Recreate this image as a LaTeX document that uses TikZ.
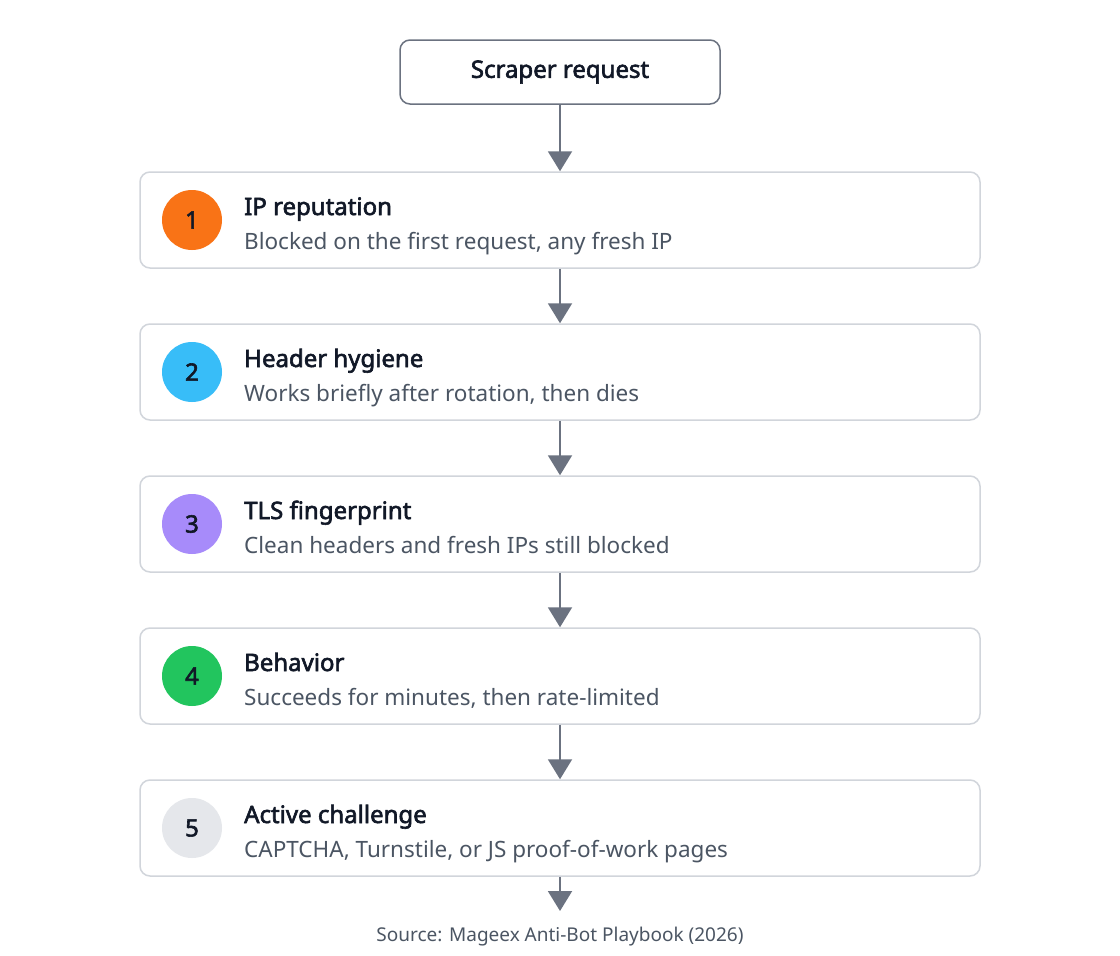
\documentclass[tikz,border=0pt]{standalone}
\usepackage{fontspec}
\setmainfont{Noto Sans}[BoldFont={Noto Sans}, BoldFeatures={FakeBold=2.5}]
\usetikzlibrary{arrows.meta,positioning}
\definecolor{edgegray}{HTML}{6B7280}
\definecolor{boxline}{HTML}{D1D5DB}
\definecolor{ink}{HTML}{111827}
\definecolor{subink}{HTML}{4B5563}
\definecolor{cOne}{HTML}{F97316}
\definecolor{cTwo}{HTML}{38BDF8}
\definecolor{cThree}{HTML}{A78BFA}
\definecolor{cFour}{HTML}{22C55E}
\definecolor{cFive}{HTML}{E5E7EB}
\tikzset{
  stage/.style={draw=boxline, line width=1.5pt, rounded corners=10pt, fill=white,
    minimum width=840pt, minimum height=96pt, inner sep=0pt},
  badge/.style={circle, minimum size=60pt, inner sep=0pt, text=ink,
    font=\fontsize{24}{28}\selectfont\bfseries},
  flow/.style={draw=edgegray, line width=2pt, -{Triangle[width=24pt,length=20pt]}},
}
\begin{document}
\begin{tikzpicture}[x=1pt,y=-1pt]
  \useasboundingbox[fill=white] (0,0) rectangle (1120,956);
  % start node
  \node[draw=edgegray, line width=1.5pt, rounded corners=10pt, minimum width=320pt,
    minimum height=64pt, font=\fontsize{24}{28}\selectfont\bfseries, text=ink]
    (start) at (560,72) {Scraper request};
  % stages
  \foreach \i/\c/\t/\s [count=\n] in {
    1/cOne/IP reputation/{Blocked on the first request, any fresh IP},
    2/cTwo/Header hygiene/{Works briefly after rotation, then dies},
    3/cThree/TLS fingerprint/{Clean headers and fresh IPs still blocked},
    4/cFour/Behavior/{Succeeds for minutes, then rate-limited},
    5/cFive/Active challenge/{CAPTCHA, Turnstile, or JS proof-of-work pages}}
  {
    \node[stage] (s\n) at (560,{220+152*(\n-1)}) {};
    \node[badge, fill=\c] (b\n) at (192,{220+152*(\n-1)}) {\i};
    \node[anchor=base west, inner sep=0pt, text=ink,
      font=\fontsize{24}{28}\selectfont\bfseries] (t\n) at (244,{215+152*(\n-1)}) {\t};
    \node[anchor=base west, inner sep=0pt, text=subink,
      font=\fontsize{22.5}{27}\selectfont] (d\n) at (244,{249+152*(\n-1)}) {\s};
  }
  % connectors
  \draw[flow] (start.south) -- (s1.north);
  \foreach \a/\b in {1/2,2/3,3/4,4/5}
    \draw[flow] (s\a.south) -- (s\b.north);
  \coordinate (end) at (560,911);
  \draw[flow] (s5.south) -- (end);
  \node[text=subink, font=\fontsize{19}{23}\selectfont] (src) at (560,937)
    {Source: Mageex Anti-Bot Playbook (2026)};
\end{tikzpicture}
\end{document}
